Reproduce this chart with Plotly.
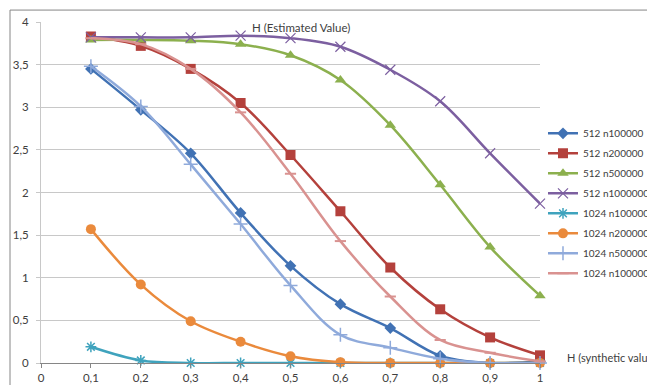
import plotly.graph_objects as go

x_vals = [0.1, 0.2, 0.3, 0.4, 0.5, 0.6, 0.7, 0.8, 0.9, 1.0]

s512_n100000 = [3.45, 2.97, 2.46, 1.76, 1.14, 0.69, 0.41, 0.085, 0.0, 0.02]
s512_n200000 = [3.83, 3.72, 3.45, 3.05, 2.44, 1.78, 1.12, 0.63, 0.30, 0.09]
s512_n500000 = [3.79, 3.79, 3.78, 3.74, 3.61, 3.32, 2.79, 2.09, 1.36, 0.79]
s512_n1000000 = [3.82, 3.82, 3.82, 3.84, 3.81, 3.71, 3.44, 3.07, 2.46, 1.87]
s1024_n100000 = [0.19, 0.03, 0.0, 0.0, 0.0, 0.0, 0.0, 0.0, 0.0, 0.0]
s1024_n200000 = [1.57, 0.92, 0.49, 0.25, 0.08, 0.01, 0.0, 0.0, 0.0, 0.0]
s1024_n500000 = [3.48, 3.01, 2.33, 1.63, 0.91, 0.33, 0.18, 0.05, 0.0, 0.0]
s1024_n1000000 = [3.81, 3.74, 3.45, 2.94, 2.22, 1.43, 0.78, 0.27, 0.12, 0.02]

series_names = ["512 n100000", "512 n200000", "512 n500000", "512 n1000000",
                "1024 n100000", "1024 n200000", "1024 n500000", "1024 n1000000"]

x_tickvals = [0, 0.1, 0.2, 0.3, 0.4, 0.5, 0.6, 0.7, 0.8, 0.9, 1]
x_ticktext = ["0", "0,1", "0,2", "0,3", "0,4", "0,5", "0,6", "0,7", "0,8", "0,9", "1"]
y_tickvals = [0, 0.5, 1, 1.5, 2, 2.5, 3, 3.5, 4]
y_ticktext = ["0", "0,5", "1", "1,5", "2", "2,5", "3", "3,5", "4"]

data = [s512_n100000, s512_n200000, s512_n500000, s512_n1000000,
        s1024_n100000, s1024_n200000, s1024_n500000, s1024_n1000000]

styles = [
    dict(color="#4172B4", symbol="diamond", size=9, lw=0),
    dict(color="#B4413C", symbol="square", size=10, lw=0),
    dict(color="#8CB04E", symbol="triangle-up", size=10, lw=0),
    dict(color="#7C5FA0", symbol="x-thin-open", size=10, lw=1.2),
    dict(color="#3FA3BD", symbol="asterisk-open", size=9, lw=1.5),
    dict(color="#EA8A3C", symbol="circle", size=10, lw=0),
    dict(color="#8FAADB", symbol="cross-thin-open", size=10, lw=1.5),
    dict(color="#D99290", symbol="line-ew-open", size=8, lw=2),
]

FONT = "Lato"
TXT = "#404040"

fig = go.Figure()
for name, ys, st in zip(series_names, data, styles):
    fig.add_trace(go.Scatter(
        x=x_vals, y=ys, name=name, mode="lines+markers",
        legendgroup=name,
        line=dict(color=st["color"], width=2.5, shape="spline", smoothing=1.0),
        marker=dict(symbol=st["symbol"], size=st["size"], color=st["color"],
                    line=dict(color=st["color"], width=st["lw"])),
        cliponaxis=False,
    ))

# the page body adds an 8px offset, so the figure is 8px smaller on each axis
fig.update_layout(
    width=647, height=377,
    margin=dict(l=33, r=115, t=14, b=22, autoexpand=False),
    paper_bgcolor="white", plot_bgcolor="white",
    font=dict(family=FONT, size=11, color=TXT),
    showlegend=True,
    legend=dict(x=1.006, xanchor="left", y=0.716, yanchor="top",
                font=dict(family=FONT, size=10, color=TXT),
                tracegroupgap=1, bgcolor="rgba(0,0,0,0)", itemwidth=30),
    xaxis=dict(range=[0, 1], tickvals=x_tickvals, ticktext=x_ticktext,
               showgrid=False, zeroline=False, showline=True, linecolor="#868686",
               linewidth=1, ticks="outside", ticklen=4, tickcolor="#868686",
               tickfont=dict(family=FONT, size=11.5, color=TXT)),
    yaxis=dict(range=[0, 4], tickvals=y_tickvals, ticktext=y_ticktext,
               showgrid=True, gridcolor="#C8C8C8", gridwidth=1, zeroline=False,
               showline=True, linecolor="#C8C8C8", linewidth=1,
               ticks="outside", ticklen=4, tickcolor="#C8C8C8",
               ticklabelstandoff=5,
               tickfont=dict(family=FONT, size=11.5, color=TXT)),
    annotations=[
        dict(text="H (Estimated Value)", xref="paper", yref="paper", x=0.521, y=0.984,
             xanchor="center", yanchor="middle", showarrow=False,
             font=dict(family=FONT, size=11.5, color=TXT)),
        dict(text="H (synthetic value)", xref="paper", yref="paper", x=1.05, y=0.015,
             xanchor="left", yanchor="middle", showarrow=False,
             font=dict(family=FONT, size=11, color=TXT)),
    ],
    shapes=[
        dict(type="line", xref="paper", yref="paper", x0=-0.0621, x1=1.4,
             y0=1.035, y1=1.035, line=dict(color="#868686", width=1)),
        dict(type="line", xref="paper", yref="paper", x0=-0.0621, x1=-0.0621,
             y0=-0.2, y1=1.035, line=dict(color="#868686", width=1)),
    ],
)

fig.write_html("out.html")
